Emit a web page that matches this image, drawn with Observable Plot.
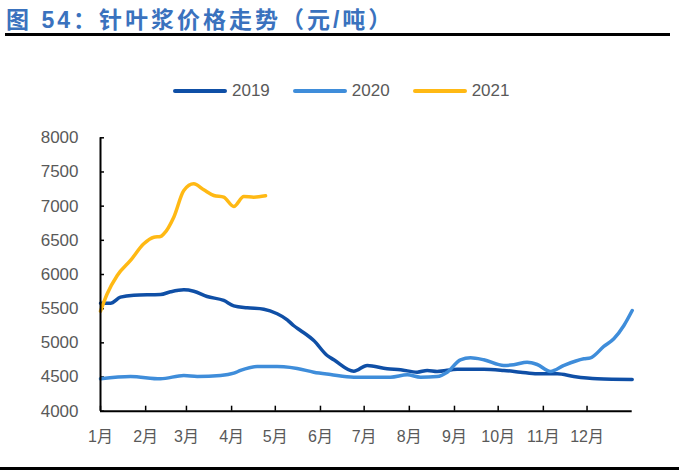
<!DOCTYPE html>
<html>
<head>
<meta charset="utf-8">
<script src="https://cdn.jsdelivr.net/npm/d3@7"></script>
<script src="https://cdn.jsdelivr.net/npm/@observablehq/plot@0.6"></script>
<style>
  html, body { margin: 0; padding: 0; background: #fff; }
  body { width: 679px; height: 474px; position: relative; overflow: hidden; font-family: "Liberation Sans", "Noto Sans CJK SC", sans-serif; }
  #title { position: absolute; left: 6px; top: 1px; font-family: "Liberation Sans", "Noto Sans CJK SC", sans-serif; font-weight: bold; font-size: 23px; letter-spacing: 3px; color: #3A72BE; white-space: nowrap; }
  #topbar { position: absolute; left: 5px; width: 665px; top: 33px; height: 3px; background: #000; }
  #bottombar { position: absolute; left: 0px; width: 679px; top: 467px; height: 3px; background: #000; }
  #legend { position: absolute; top: 81px; left: 173px; display: flex; align-items: center; font-size: 17px; color: #595959; }
  .item { display: flex; align-items: center; margin-right: 23px; }
  .sw { width: 54px; height: 3.5px; border-radius: 2px; margin-right: 5px; }
  #chart { position: absolute; left: 0; top: 120px; }
</style>
</head>
<body>
<div id="title">图 54：针叶浆价格走势（元/吨）</div>
<div id="topbar"></div>
<div id="legend"></div>
<div id="chart"></div>
<div id="bottombar"></div>
<script>
const years = ["2019", "2020", "2021"];
const colors = ["#0F4FA6", "#3F8DDA", "#FFB914"];

const yTicks = [4000, 4500, 5000, 5500, 6000, 6500, 7000, 7500, 8000];
const monthStarts = [0, 31, 59, 90, 120, 151, 181, 212, 243, 273, 304, 334];
const monthLabels = ["1月", "2月", "3月", "4月", "5月", "6月", "7月", "8月", "9月", "10月", "11月", "12月"];

// day of year (0 = Jan 1) and price (元/吨)
const days2019 = [0, 6.9, 13.7, 22.9, 41.2, 48.1, 57.2, 64.0, 73.2, 84.6, 91.5, 100.7, 112.1, 121.3, 128.2, 132.7, 137.3, 146.4, 155.6, 160.2, 173.9, 183.1, 196.8, 206.0, 217.4, 224.3, 231.1, 244.9, 263.1, 276.9, 288.3, 299.8, 313.5, 324.9, 341.0, 365];
const vals2019 = [5580, 5580, 5668, 5697, 5707, 5747, 5776, 5756, 5678, 5620, 5542, 5513, 5493, 5425, 5337, 5250, 5181, 5034, 4815, 4752, 4585, 4669, 4620, 4606, 4571, 4596, 4581, 4615, 4615, 4596, 4571, 4547, 4547, 4508, 4474, 4464];

const days2020 = [0, 20.6, 41.2, 57.2, 66.4, 82.4, 91.5, 96.1, 107.6, 121.3, 125.8, 135.0, 146.4, 157.9, 173.9, 199.1, 210.6, 219.7, 231.1, 238.0, 247.1, 254.0, 263.1, 276.9, 283.7, 292.9, 299.8, 308.9, 318.1, 331.8, 336.4, 345.5, 352.4, 359.3, 365];
const vals2020 = [4474, 4508, 4474, 4522, 4508, 4522, 4556, 4596, 4654, 4654, 4650, 4625, 4571, 4537, 4498, 4498, 4532, 4498, 4508, 4571, 4752, 4781, 4752, 4669, 4679, 4717, 4683, 4581, 4669, 4767, 4781, 4947, 5059, 5254, 5473];

const days2021 = [0, 4.6, 11.5, 20.6, 29.7, 36.6, 41.2, 43.5, 50.3, 57.2, 64.0, 70.9, 77.8, 84.6, 91.5, 98.4, 105.2, 113.3];
const vals2021 = [5463, 5718, 5986, 6205, 6449, 6546, 6556, 6595, 6839, 7229, 7327, 7239, 7156, 7131, 6995, 7141, 7131, 7151];

const series = [[days2019, vals2019], [days2020, vals2020], [days2021, vals2021]];
const data = [];
series.forEach(([ds, vs], k) => ds.forEach((d, i) => data.push({year: years[k], day: d, value: vs[i]})));

// legend
const legend = document.getElementById("legend");
years.forEach((y, i) => {
  const it = document.createElement("div");
  it.className = "item";
  it.innerHTML = `<div class="sw" style="background:${colors[i]}"></div><span>${y}</span>`;
  legend.appendChild(it);
});

const chart = Plot.plot({
  width: 679,
  height: 330,
  marginLeft: 100,
  marginRight: 47.3,
  marginTop: 17.3,
  marginBottom: 39.3,
  style: {fontFamily: "'Liberation Sans', 'Noto Sans CJK SC', sans-serif", fontSize: "16px", background: "#fff"},
  x: {type: "linear", domain: [0, 365], label: null},
  y: {domain: [4000, 8000], label: null},
  color: {domain: years, range: colors},
  marks: [
    Plot.axisY({ticks: yTicks, tickSize: 0, tickPadding: 22, tickFormat: d => String(d), fill: "#595959", fontSize: 17, label: null}),
    Plot.axisY({ticks: yTicks, tickSize: -4, text: null, stroke: "#000", strokeWidth: 1.5, label: null}),
    Plot.axisX({ticks: monthStarts, tickSize: 0, tickPadding: 19, tickFormat: d => monthLabels[monthStarts.indexOf(d)], fill: "#595959", fontSize: 16, label: null}),
    Plot.axisX({ticks: monthStarts, tickSize: -5, text: null, stroke: "#000", strokeWidth: 1.5, label: null}),
    Plot.line(data, {x: "day", y: "value", z: "year", stroke: "year", strokeWidth: 3.5, curve: "monotone-x", strokeLinecap: "round"}),
    Plot.ruleX([0], {stroke: "#000", strokeWidth: 2}),
    Plot.ruleY([4000], {stroke: "#000", strokeWidth: 2})
  ]
});
document.getElementById("chart").appendChild(chart);
</script>
</body>
</html>
